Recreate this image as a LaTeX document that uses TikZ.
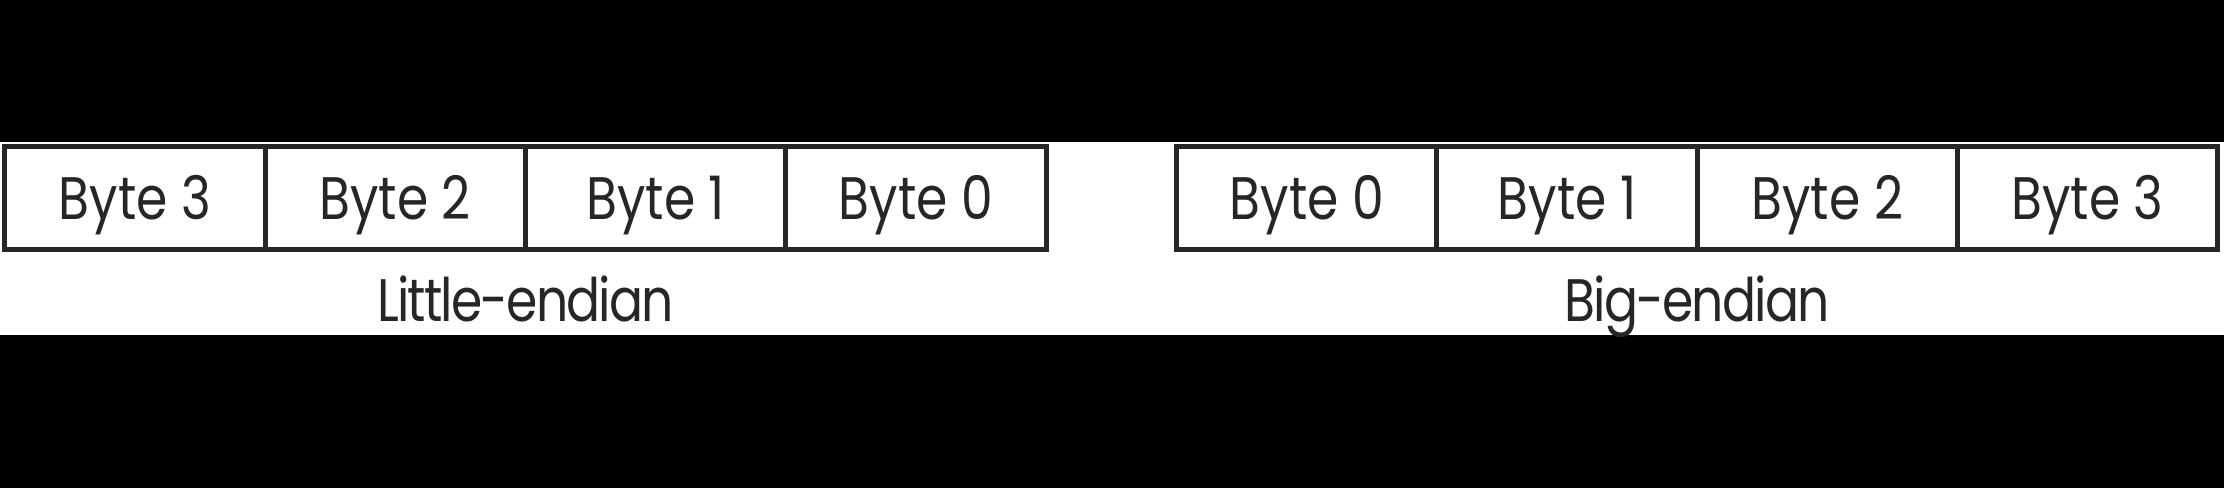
\documentclass[tikz,border=0pt]{standalone}
\usepackage{fontspec}
\setmainfont{Poppins}[FakeStretch=0.84]
\begin{document}
\begin{tikzpicture}[x=0.25pt,y=-0.25pt,
  cell/.style={draw=black!85, line width=1.3pt, fill=white, minimum width=65.1pt,
    minimum height=25.75pt, inner sep=0pt, outer sep=0pt, text height=10.75pt, text depth=0pt,
    font=\fontsize{15}{15}\selectfont, text=black!85},
  lbl/.style={anchor=base, inner sep=0pt, font=\fontsize{15}{15}\selectfont\addfontfeature{LetterSpace=-3}, text=black!85}]
\useasboundingbox (0,0) rectangle (2224,488);
\fill[black] (0,0) rectangle (2224,488);
\fill[white] (0,142) rectangle (2224,335);
% little-endian
\node[cell] (l3) at (135,198) {Byte 3};
\node[cell] (l2) at (395.3,198) {Byte 2};
\node[cell] (l1) at (655.6,198) {Byte 1};
\node[cell] (l0) at (915.9,198) {Byte 0};
\node[lbl] (lt) at (525.5,322) {Little-endian};
% big-endian
\node[cell] (b0) at (1306.7,198) {Byte 0};
\node[cell] (b1) at (1567,198) {Byte 1};
\node[cell] (b2) at (1827.3,198) {Byte 2};
\node[cell] (b3) at (2087.6,198) {Byte 3};
\node[lbl] (bt) at (1697,322) {Big-endian};
\end{tikzpicture}
\end{document}
